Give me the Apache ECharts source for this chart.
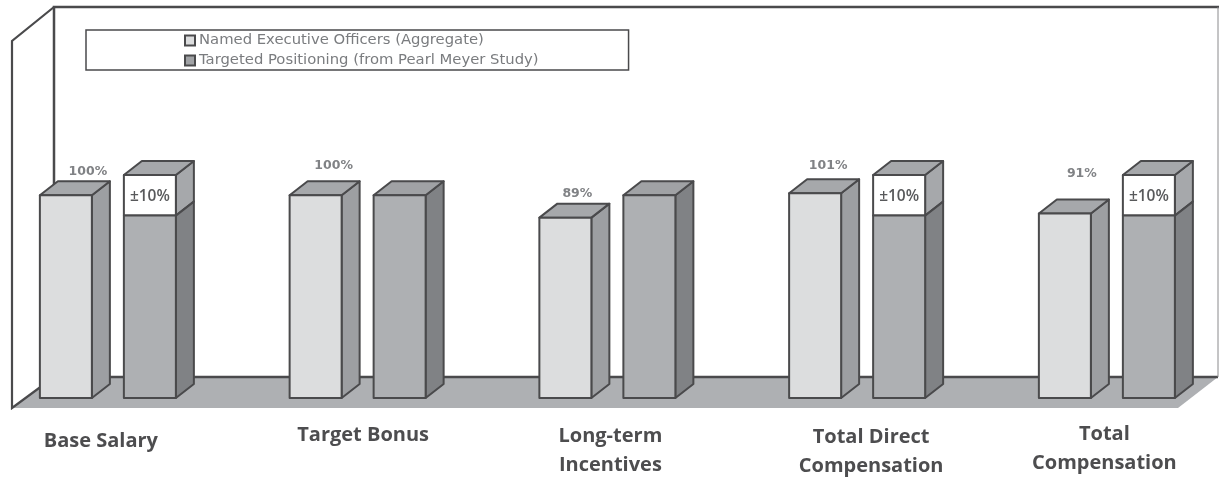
<!DOCTYPE html>
<html>
<head>
<meta charset="utf-8">
<style>
html,body{margin:0;padding:0;background:#fff;}
#c{width:1219px;height:480px;filter:blur(0.5px);}
</style>
<script src="https://cdn.jsdelivr.net/npm/echarts@6/dist/echarts.min.js"></script>
</head>
<body>
<div id="c"></div>
<script>
var categories = ['Base Salary', 'Target Bonus', 'Long-term\nIncentives', 'Total Direct\nCompensation', 'Total\nCompensation'];
var namedOfficers = [100, 100, 89, 101, 91];
var targetBase = [90, 100, 100, 90, 90];
var targetBand = [20, 0, 0, 20, 20];
var officerLabels = ['100%', '100%', '89%', '101%', '91%'];
var bandLabel = '±10%';
var seriesNames = ['Named Executive Officers (Aggregate)', 'Targeted Positioning (from Pearl Meyer Study)'];

// purely stylistic placement nudges, as in the source picture
var officerLabelNudge = [[22, -24], [18, -30], [12, -24], [13, -28], [17, -40]];
var categoryLabelNudge = [[-7, 43], [5.5, 37], [3, 53], [14, 54], [-2.5, 51]];

var DX = 18, DY = -14, BAR = 52, GAP = 16;
var STROKE = '#4a4a4c';

function box(x0, x1, yb, yt, front, top, side) {
  var s = {stroke: STROKE, lineWidth: 2, lineJoin: 'round'};
  return [
    {type: 'polygon', shape: {points: [[x1, yb], [x1 + DX, yb + DY], [x1 + DX, yt + DY], [x1, yt]]}, style: Object.assign({fill: side}, s)},
    {type: 'polygon', shape: {points: [[x0, yt], [x1, yt], [x1 + DX, yt + DY], [x0 + DX, yt + DY]]}, style: Object.assign({fill: top}, s)},
    {type: 'polygon', shape: {points: [[x0, yb], [x1, yb], [x1, yt], [x0, yt]]}, style: Object.assign({fill: front}, s)}
  ];
}

function renderOfficer(params, api) {
  var i = api.value(0);
  var p0 = api.coord([i, 0]), p1 = api.coord([i, api.value(1)]);
  var x0 = p0[0] - GAP - BAR, x1 = p0[0] - GAP;
  var kids = box(x0, x1, p0[1], p1[1], '#dcddde', '#a6a8ab', '#9d9fa2');
  kids.push({type: 'text', style: {
    x: (x0 + x1) / 2 + officerLabelNudge[i][0], y: p1[1] + officerLabelNudge[i][1],
    text: officerLabels[i], fill: '#808285', font: 'bold 12.5px "DejaVu Sans"', align: 'center', verticalAlign: 'middle'}});
  return {type: 'group', children: kids};
}

function renderTarget(params, api) {
  var i = api.value(0), base = api.value(1), band = api.value(2);
  var p0 = api.coord([i, 0]), p1 = api.coord([i, base]), p2 = api.coord([i, base + band]);
  var x0 = p0[0] + GAP, x1 = p0[0] + GAP + BAR;
  var kids = [];
  if (band > 0) {
    kids = kids.concat(box(x0, x1, p1[1], p2[1], '#ffffff', '#a6a8ab', '#a6a8ab'));
  }
  var lower = box(x0, x1, p0[1], p1[1], '#aeb0b3', '#a0a2a5', '#808285');
  if (band > 0) { lower.splice(1, 1); }
  kids = kids.concat(lower);
  if (band > 0) {
    kids.push({type: 'text', style: {
      x: (x0 + x1) / 2, y: (p1[1] + p2[1]) / 2 + 1,
      text: bandLabel, fill: '#58595b', font: '600 15.5px "Open Sans"', align: 'center', verticalAlign: 'middle'}});
  }
  return {type: 'group', children: kids};
}

function renderCategory(params, api) {
  var i = api.value(0);
  var p0 = api.coord([i, 0]);
  return {type: 'text', style: {
    x: p0[0] + categoryLabelNudge[i][0], y: p0[1] + categoryLabelNudge[i][1],
    text: categories[i], fill: '#4d4d4f', font: '700 20px "Open Sans"', lineHeight: 29, align: 'center', verticalAlign: 'middle'}};
}

var chart = echarts.init(document.getElementById('c'), null, {renderer: 'canvas'});
chart.setOption({
  animation: false,
  backgroundColor: '#fff',
  grid: {left: -17, top: 94, width: 1248.75, height: 304, outerBoundsMode: 'none', containLabel: false},
  xAxis: {type: 'category', data: categories, show: false},
  yAxis: {type: 'value', min: 0, max: 150, show: false},
  legend: {
    left: 86, top: 30, orient: 'vertical', align: 'left',
    data: seriesNames.map(function (n) { return {name: n, icon: 'rect'}; }),
    padding: [3, 90, 2, 98], itemGap: 5, itemWidth: 10, itemHeight: 10,
    backgroundColor: '#fff', borderColor: '#4a4a4c', borderWidth: 1.5, borderRadius: 0,
    textStyle: {fontFamily: 'DejaVu Sans', fontSize: 14.8, lineHeight: 15, color: '#7a7c7f', padding: [0, 0, 0, -1]}
  },
  graphic: {elements: [
    {type: 'polygon', z: -10, shape: {points: [[12, 408], [54, 377], [1218, 377], [1178, 408]]}, style: {fill: '#aeb0b3'}},
    {type: 'polyline', z: -9, shape: {points: [[1219, 7], [54, 7], [54, 377], [1218, 377]]}, style: {fill: 'none', stroke: '#4a4a4c', lineWidth: 2.5}},
    {type: 'polyline', z: -9, shape: {points: [[54, 7], [12, 41], [12, 408], [54, 377]]}, style: {fill: 'none', stroke: '#4a4a4c', lineWidth: 2.2}},
    {type: 'line', z: -9, shape: {x1: 1218, y1: 7, x2: 1218, y2: 377}, style: {stroke: '#8a8a8c', lineWidth: 1}}
  ]},
  series: [
    {name: seriesNames[0], type: 'custom', coordinateSystem: 'cartesian2d', clip: false,
     renderItem: renderOfficer, encode: {x: 0, y: 1},
     itemStyle: {color: '#dcddde', borderColor: '#4a4a4c', borderWidth: 1.5},
     data: namedOfficers.map(function (v, i) { return [i, v]; })},
    {name: seriesNames[1], type: 'custom', coordinateSystem: 'cartesian2d', clip: false,
     renderItem: renderTarget, encode: {x: 0, y: [1, 2]},
     itemStyle: {color: '#a0a2a5', borderColor: '#4a4a4c', borderWidth: 1.5},
     data: targetBase.map(function (v, i) { return [i, v, targetBand[i]]; })},
    {name: 'labels', type: 'custom', coordinateSystem: 'cartesian2d', clip: false,
     renderItem: renderCategory, encode: {x: 0},
     data: categories.map(function (c, i) { return [i]; })}
  ]
});
</script>
</body>
</html>
